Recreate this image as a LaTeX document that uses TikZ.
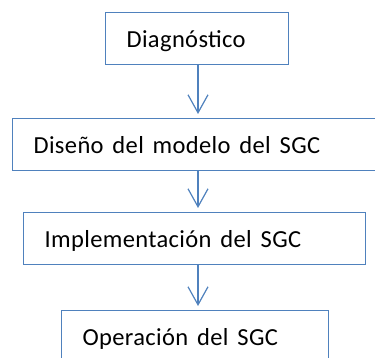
\documentclass[tikz,border=0pt]{standalone}
\usepackage{fontspec}
\setmainfont{Carlito}[LetterSpace=1.5]
\usetikzlibrary{arrows.meta,positioning}
\definecolor{boxblue}{RGB}{79,129,189}
\tikzset
{
    stagebox/.style = {rectangle, draw=boxblue, line width=1.2pt, anchor=north west, minimum height=52pt, inner xsep=0pt, text width=#1, align=left, text height=18pt, text depth=0pt, execute at begin node={\spaceskip=.36em\xspaceskip=.36em\hspace*{21pt}}, font=\fontsize{24.5}{28}\selectfont},
    arrow/.style    = {draw=boxblue, line width=1.2pt, -{Straight Barb[length=18pt,width=20pt]}, shorten >=4pt},
}

\begin{document}
\begin{tikzpicture}[x=1pt, y=-1pt]

   \useasboundingbox (0,0) rectangle (375,358);
   \clip (0,0) rectangle (375,358);

   \coordinate (spine) at (198,0);

   \node (diag)   [stagebox=183pt] at (105, 12)  {Diagnóstico};
   \node (design) [stagebox=380pt] at ( 12,118)  {Diseño del modelo del SGC};
   \node (impl)   [stagebox=342pt] at ( 23,212)  {Implementación del SGC};
   \node (oper)   [stagebox=267pt] at ( 61,310)  {Operación del SGC};

   \path
      (diag.south -| spine)   edge[arrow] (design.north -| spine)
      (design.south -| spine) edge[arrow] (impl.north -| spine)
      (impl.south -| spine)   edge[arrow] (oper.north -| spine);
\end{tikzpicture}
\end{document}
